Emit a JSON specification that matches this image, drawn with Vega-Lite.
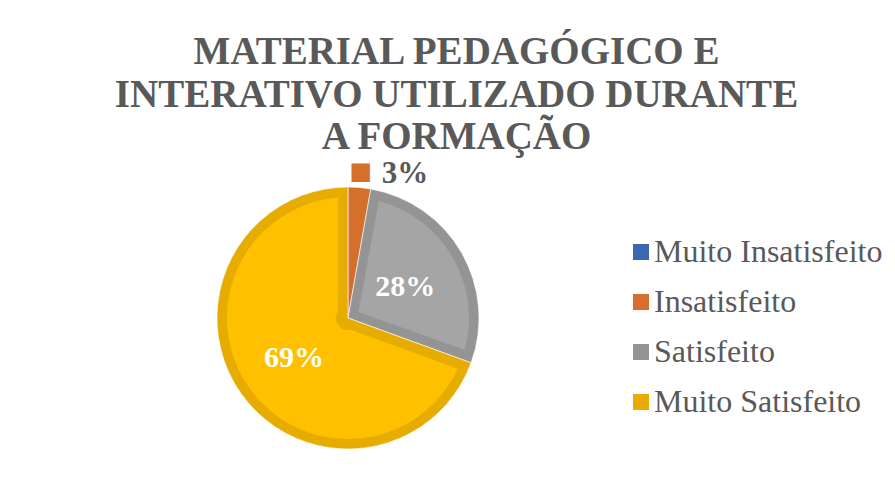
{
  "$schema": "https://vega.github.io/schema/vega-lite/v6.json",
  "autosize": {"type": "none"},
  "padding": {"left": 217, "top": 187, "right": 416, "bottom": 34},
  "width": 262,
  "height": 262,
  "background": "white",
  "config": {"view": {"stroke": null}},
  "title": {
    "text": ["MATERIAL PEDAGÓGICO E", "INTERATIVO UTILIZADO DURANTE", "A FORMAÇÃO"],
    "font": "Liberation Serif",
    "fontSize": 39,
    "fontWeight": "bold",
    "color": "#595959",
    "anchor": "middle",
    "frame": "group",
    "dx": 108.5,
    "offset": 0,
    "lineHeight": 42.5
  },
  "data": {
    "values": [
      {"cat": "Muito Insatisfeito", "ord": 1, "v": 0, "pct": ""},
      {"cat": "Insatisfeito", "ord": 2, "v": 2.78, "pct": "3%"},
      {"cat": "Satisfeito", "ord": 3, "v": 27.78, "pct": "28%"},
      {"cat": "Muito Satisfeito", "ord": 4, "v": 69.44, "pct": "69%"}
    ]
  },
  "resolve": {"scale": {"fill": "independent"}, "legend": {"fill": "independent"}},
  "layer": [
    {
      "mark": {"type": "arc", "radius": 131, "stroke": "white", "strokeWidth": 1, "strokeOpacity": 0.6},
      "encoding": {
        "theta": {"field": "v", "type": "quantitative", "stack": true},
        "order": {"field": "ord", "type": "quantitative"},
        "fill": {
          "field": "cat", "type": "nominal",
          "scale": {
            "domain": ["Muito Insatisfeito", "Insatisfeito", "Satisfeito", "Muito Satisfeito"],
            "range": ["#3D67B1", "#D46F2C", "#949494", "#E6AC00"]
          },
          "legend": {
            "title": null,
            "orient": "none",
            "legendX": 408,
            "legendY": 49,
            "symbolType": "square",
            "symbolSize": 256,
            "symbolStrokeWidth": 0,
            "labelFont": "Liberation Serif",
            "labelFontSize": 32,
            "labelColor": "#595959",
            "labelOffset": -3,
            "rowPadding": 18,
            "padding": 0,
            "labelLimit": 400
          }
        }
      }
    },
    {
      "mark": {"type": "arc", "radius": 121, "radius2": 12, "padAngle": 0.1645},
      "encoding": {
        "theta": {"field": "v", "type": "quantitative", "stack": true},
        "order": {"field": "ord", "type": "quantitative"},
        "fill": {
          "field": "cat", "type": "nominal",
          "scale": {
            "domain": ["Muito Insatisfeito", "Insatisfeito", "Satisfeito", "Muito Satisfeito"],
            "range": ["#4472C4", "#D46F2C", "#A5A5A5", "#FFC000"]
          },
          "legend": null
        }
      }
    },
    {
      "mark": {"type": "text", "radius": 66, "font": "Liberation Serif", "fontSize": 30, "fontWeight": "bold", "color": "white", "align": "center", "baseline": "middle", "dy": 2},
      "encoding": {
        "theta": {"field": "v", "type": "quantitative", "stack": true},
        "order": {"field": "ord", "type": "quantitative"},
        "text": {"condition": {"test": "datum.cat === 'Satisfeito' || datum.cat === 'Muito Satisfeito'", "field": "pct"}, "value": ""}
      }
    },
    {
      "mark": {"type": "text", "radius": 147, "font": "DejaVu Sans", "fontSize": 24, "color": "#D46F2C", "align": "center", "baseline": "middle", "dy": 0},
      "encoding": {
        "theta": {"field": "v", "type": "quantitative", "stack": true},
        "order": {"field": "ord", "type": "quantitative"},
        "text": {"condition": {"test": "datum.cat === 'Insatisfeito'", "value": "■"}, "value": ""}
      }
    },
    {
      "mark": {"type": "text", "radius": 147, "font": "Liberation Serif", "fontSize": 31, "fontWeight": "bold", "color": "#595959", "align": "left", "baseline": "middle", "dx": 21, "dy": 2},
      "encoding": {
        "theta": {"field": "v", "type": "quantitative", "stack": true},
        "order": {"field": "ord", "type": "quantitative"},
        "text": {"condition": {"test": "datum.cat === 'Insatisfeito'", "field": "pct"}, "value": ""}
      }
    }
  ]
}
